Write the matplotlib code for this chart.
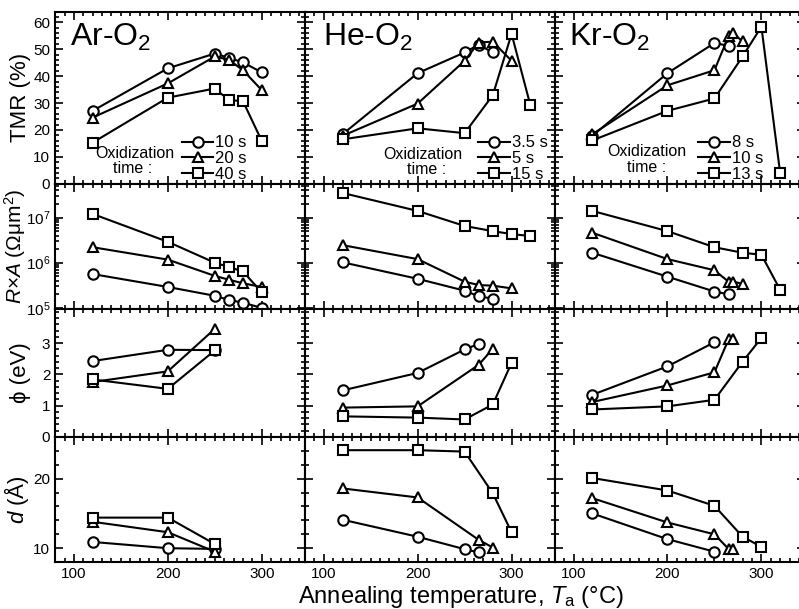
import matplotlib
matplotlib.use("Agg")
import matplotlib.pyplot as plt
from matplotlib.ticker import MultipleLocator, FixedLocator, LogLocator, NullFormatter

plt.rcParams["font.family"] = ["Liberation Sans", "DejaVu Sans"]
plt.rcParams["mathtext.fontset"] = "custom"
plt.rcParams["mathtext.rm"] = "Liberation Sans"
plt.rcParams["mathtext.it"] = "Liberation Sans:italic"

# ---- Ar-O2 (oxidization time 10 s, 20 s, 40 s) ----
ar_times = ["10 s", "20 s", "40 s"]
ar_t = [120, 200, 250, 265, 280, 300]
ar_tmr_a = [27.1, 42.9, 48.4, 46.8, 45.1, 41.4]
ar_tmr_b = [24.6, 37.3, 47.3, 46.1, 42.2, 34.8]
ar_tmr_c = [15.3, 32.0, 35.4, 31.1, 30.7, 15.9]
ar_ra_a = [5.6e5, 2.9e5, 1.85e5, 1.5e5, 1.3e5, 1.0e5]
ar_ra_b = [2.2e6, 1.17e6, 5.1e5, 4.2e5, 3.5e5, 2.9e5]
ar_ra_c = [1.2e7, 2.9e6, 1.0e6, 8.0e5, 6.4e5, 2.2e5]
ar_t3 = [120, 200, 250]
ar_phi_a = [2.43, 2.79, 2.78]
ar_phi_b = [1.76, 2.10, 3.46]
ar_phi_c = [1.84, 1.54, 2.77]
ar_d_a = [10.9, 10.0, 9.9]
ar_d_b = [13.8, 12.3, 9.5]
ar_d_c = [14.4, 14.4, 10.6]

# ---- He-O2 (3.5 s, 5 s, 15 s) ----
he_times = ["3.5 s", "5 s", "15 s"]
he_t_a = [120, 200, 250, 265, 280]
he_t_b = [120, 200, 250, 265, 280, 300]
he_t_c = [120, 200, 250, 280, 300, 320]
he_tmr_a = [18.4, 41.1, 48.8, 51.7, 48.8]
he_tmr_b = [17.8, 29.8, 45.7, 52.5, 52.8, 45.7]
he_tmr_c = [16.5, 20.6, 18.8, 32.9, 55.7, 29.2]
he_ra_a = [1.02e6, 4.4e5, 2.4e5, 1.8e5, 1.6e5]
he_ra_b = [2.45e6, 1.2e6, 3.8e5, 3.2e5, 3.1e5, 2.7e5]
he_ra_c = [3.5e7, 1.4e7, 6.5e6, 5.0e6, 4.3e6, 3.9e6]
he_t_phi_a = [120, 200, 250, 265]
he_t_phi_b = [120, 200, 265, 280]
he_t_phi_c = [120, 200, 250, 280, 300]
he_phi_a = [1.49, 2.05, 2.80, 2.98]
he_phi_b = [0.94, 0.98, 2.31, 2.82]
he_phi_c = [0.66, 0.62, 0.56, 1.04, 2.37]
he_d_a = [14.1, 11.65, 9.86, 9.4]
he_d_b = [18.6, 17.3, 11.2, 10.1]
he_d_c = [24.1, 24.1, 23.9, 17.9, 12.3]

# ---- Kr-O2 (8 s, 10 s, 13 s) ----
kr_times = ["8 s", "10 s", "13 s"]
kr_t_a = [120, 200, 250, 265]
kr_t_b = [120, 200, 250, 265, 270, 280]
kr_t_c = [120, 200, 250, 280, 300, 320]
kr_tmr_a = [17.8, 41.1, 52.3, 51.3]
kr_tmr_b = [18.4, 36.6, 42.2, 54.8, 55.9, 52.9]
kr_tmr_c = [16.1, 27.1, 31.7, 47.3, 58.4, 3.9]
kr_ra_a = [1.66e6, 4.9e5, 2.3e5, 2.0e5]
kr_ra_b = [4.6e6, 1.2e6, 6.8e5, 3.8e5, 3.8e5, 3.4e5]
kr_ra_c = [1.4e7, 5.0e6, 2.2e6, 1.66e6, 1.5e6, 2.5e5]
kr_t_phi_a = [120, 200, 250]
kr_t_phi_b = [120, 200, 250, 265, 270]
kr_t_phi_c = [120, 200, 250, 280, 300]
kr_phi_a = [1.35, 2.26, 3.03]
kr_phi_b = [1.12, 1.65, 2.07, 3.12, 3.12]
kr_phi_c = [0.88, 0.98, 1.19, 2.41, 3.17]
kr_d_a = [15.0, 11.3, 9.5]
kr_d_b = [17.2, 13.7, 12.0, 9.9, 9.9]
kr_d_c = [20.1, 18.3, 16.1, 11.65, 10.2]

gases = [r"Ar-O$_2$", r"He-O$_2$", r"Kr-O$_2$"]
legend_labels = [ar_times, he_times, kr_times]

# panels[row][col] = list of (temps, values) for the three oxidization times
panels = [
    [[(ar_t, ar_tmr_a), (ar_t, ar_tmr_b), (ar_t, ar_tmr_c)],
     [(he_t_a, he_tmr_a), (he_t_b, he_tmr_b), (he_t_c, he_tmr_c)],
     [(kr_t_a, kr_tmr_a), (kr_t_b, kr_tmr_b), (kr_t_c, kr_tmr_c)]],
    [[(ar_t, ar_ra_a), (ar_t, ar_ra_b), (ar_t, ar_ra_c)],
     [(he_t_a, he_ra_a), (he_t_b, he_ra_b), (he_t_c, he_ra_c)],
     [(kr_t_a, kr_ra_a), (kr_t_b, kr_ra_b), (kr_t_c, kr_ra_c)]],
    [[(ar_t3, ar_phi_a), (ar_t3, ar_phi_b), (ar_t3, ar_phi_c)],
     [(he_t_phi_a, he_phi_a), (he_t_phi_b, he_phi_b), (he_t_phi_c, he_phi_c)],
     [(kr_t_phi_a, kr_phi_a), (kr_t_phi_b, kr_phi_b), (kr_t_phi_c, kr_phi_c)]],
    [[(ar_t3, ar_d_a), (ar_t3, ar_d_b), (ar_t3, ar_d_c)],
     [(he_t_phi_a, he_d_a), (he_t_phi_b, he_d_b), (he_t_phi_c, he_d_c)],
     [(kr_t_phi_a, kr_d_a), (kr_t_phi_b, kr_d_b), (kr_t_phi_c, kr_d_c)]],
]

ylabels = ["TMR (%)", r"$R$×$A$ (Ωμm$^2$)", "ϕ (eV)", r"$d$ (Å)"]
ylabel_x = [-0.095, -0.108, -0.095, -0.095]
ylabel_size = [16, 15, 16, 16]
markers = ["o", "^", "s"]

fig = plt.figure(figsize=(7.99, 6.09), dpi=100)
gs = fig.add_gridspec(4, 3, left=0.069, right=1.007, top=0.981, bottom=0.077,
                      hspace=0, wspace=0, height_ratios=[172, 125, 128, 125])

# legend / annotation placement (axes fractions)
leg_x = [0.50, 0.688, 0.568]
title_x = [0.06, 0.072, 0.056]
oxi_pos = [(0.32, 0.174, 0.312, 0.087), (0.472, 0.169, 0.488, 0.081), (0.368, 0.186, 0.368, 0.093)]

for r in range(4):
    for c in range(3):
        ax = fig.add_subplot(gs[r, c])
        lines = []
        for (t, v), m in zip(panels[r][c], markers):
            ln, = ax.plot(t, v, "-", color="black", lw=1.5, marker=m, ms=7.5,
                          mfc="white", mec="black", mew=1.5)
            lines.append(ln)

        ax.set_xlim(80, 346)
        ax.xaxis.set_major_locator(MultipleLocator(100))
        ax.xaxis.set_minor_locator(MultipleLocator(10))

        if r == 0:
            ax.set_ylim(0, 64)
            ax.yaxis.set_major_locator(MultipleLocator(10))
            ax.yaxis.set_minor_locator(MultipleLocator(2))
        elif r == 1:
            ax.set_yscale("log")
            ax.set_ylim(9.5e4, 5.6e7)
            ax.yaxis.set_major_locator(LogLocator(base=10, numticks=10))
            ax.yaxis.set_minor_locator(LogLocator(base=10, subs=range(2, 10), numticks=10))
            ax.yaxis.set_minor_formatter(NullFormatter())
        elif r == 2:
            ax.set_ylim(0, 4.1)
            ax.yaxis.set_major_locator(FixedLocator([0, 1, 2, 3]))
            ax.yaxis.set_minor_locator(MultipleLocator(0.2))
        else:
            ax.set_ylim(8, 26)
            ax.yaxis.set_major_locator(MultipleLocator(10))
            ax.yaxis.set_minor_locator(MultipleLocator(2))

        ax.tick_params(which="both", direction="in", top=True, right=True,
                       width=1.2, labelsize=11)
        ax.tick_params(which="major", length=6)
        ax.tick_params(which="minor", length=3)
        for s in ax.spines.values():
            s.set_linewidth(1.5)

        if r != 3:
            ax.tick_params(labelbottom=False)
        if c != 0:
            ax.tick_params(labelleft=False)
        else:
            ax.set_ylabel(ylabels[r], fontsize=ylabel_size[r])
            ax.yaxis.set_label_coords(ylabel_x[r], 0.5)

        if r == 0:
            ax.text(title_x[c], 0.80, gases[c], transform=ax.transAxes,
                    fontsize=23, va="baseline", ha="left")
            ax.legend(lines, legend_labels[c], loc="lower left",
                      bbox_to_anchor=(leg_x[c], 0.0), frameon=False,
                      fontsize=12, handlelength=1.9, handletextpad=0.1,
                      labelspacing=0.05, borderpad=0.1, borderaxespad=0)
            ox, oy, tx, ty = oxi_pos[c]
            ax.text(ox, oy, "Oxidization", transform=ax.transAxes,
                    fontsize=11.5, ha="center", va="center")
            ax.text(tx, ty, "time :", transform=ax.transAxes,
                    fontsize=11.5, ha="center", va="center")

fig.text(461 / 799, 1 - 597 / 609, r"Annealing temperature, $T_\mathrm{a}$ (°C)",
         fontsize=17, ha="center", va="center")

fig.savefig("out.png", dpi=100)
